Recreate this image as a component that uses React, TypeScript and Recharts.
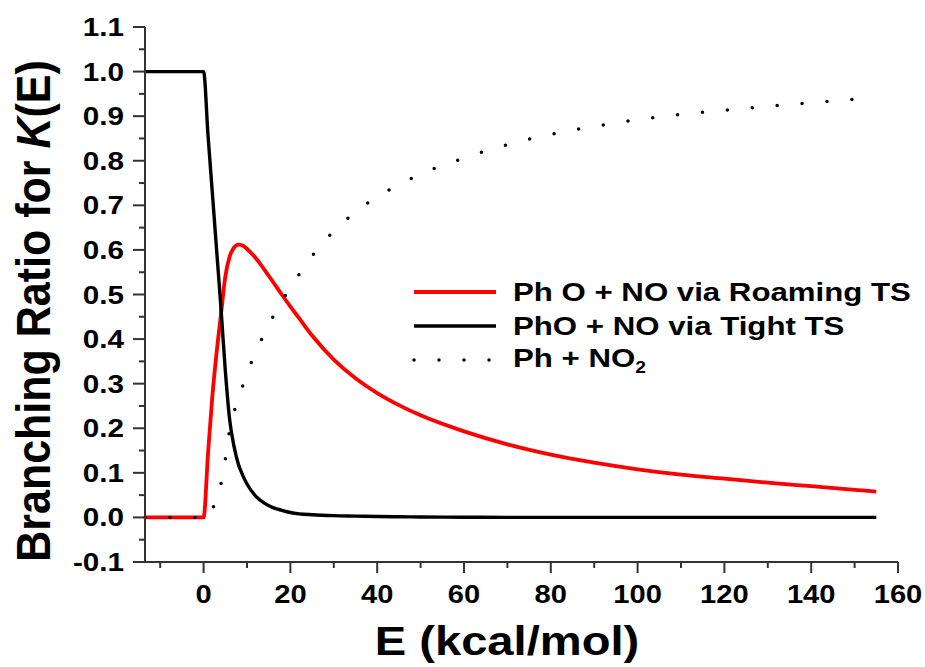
import { LineChart, Line, XAxis, YAxis } from "recharts"

// energies (kcal/mol) and branching ratios
const energies = [-13.5, 0, 1, 2, 3, 4, 5, 6, 7, 8, 9, 10, 12, 14, 16, 18, 20, 22, 25, 30, 35, 40, 45, 50, 60, 70, 80, 90, 100, 110, 120, 130, 140, 150, 155]
const roaming = [0, 0, 0.14, 0.27, 0.37, 0.455, 0.54, 0.585, 0.605, 0.612, 0.61, 0.602, 0.582, 0.556, 0.528, 0.5, 0.473, 0.447, 0.408, 0.354, 0.312, 0.279, 0.252, 0.229, 0.193, 0.164, 0.141, 0.123, 0.108, 0.096, 0.087, 0.078, 0.07, 0.062, 0.058]
const tight = [1, 1, 0.86, 0.73, 0.6, 0.47, 0.33, 0.22, 0.16, 0.12, 0.095, 0.075, 0.048, 0.032, 0.022, 0.016, 0.011, 0.008, 0.006, 0.004, 0.003, 0.002, 0.0015, 0.001, 0.0005, 0, 0, 0, 0, 0, 0, 0, 0, 0, 0]
const phNo2 = [0, 0, 0, 0.02, 0.035, 0.075, 0.13, 0.195, 0.235, 0.268, 0.295, 0.323, 0.37, 0.412, 0.45, 0.484, 0.516, 0.545, 0.586, 0.642, 0.685, 0.719, 0.746, 0.77, 0.806, 0.836, 0.859, 0.877, 0.892, 0.904, 0.913, 0.922, 0.93, 0.938, 0.942]

const xTicks = [-10, 0, 10, 20, 30, 40, 50, 60, 70, 80, 90, 100, 110, 120, 130, 140, 150, 160]
const yTicks = [-0.1, -0.05, 0, 0.05, 0.1, 0.15, 0.2, 0.25, 0.3, 0.35, 0.4, 0.45, 0.5, 0.55, 0.6, 0.65, 0.7, 0.75, 0.8, 0.85, 0.9, 0.95, 1.0, 1.05, 1.1]

const series = [
  { key: "roaming", name: "Ph O + NO via Roaming TS", color: "#ff0000", width: 3.8, dash: undefined },
  { key: "tight", name: "PhO + NO via Tight TS", color: "#000000", width: 3.4, dash: undefined },
  { key: "phNo2", name: "Ph + NO2", color: "#000000", width: 3.5, dash: "0 25" },
]

const data = energies.map((E, i) => ({ E, roaming: roaming[i], tight: tight[i], phNo2: phNo2[i] }))

const FONT = "'Liberation Sans', Arial, sans-serif"
const AXIS = "#333"

const XTick = ({ x, y, payload }: any) => {
  const major = payload.value % 20 === 0
  return (
    <g>
      <line x1={x} x2={x} y1={y} y2={y + (major ? 11 : 6)} stroke={AXIS} strokeWidth={2} />
      {major && (
        <text
          transform={`translate(${x},${y + 41}) scale(1.12,1)`}
          textAnchor="middle"
          fontFamily={FONT}
          fontWeight="bold"
          fontSize={26}
          fill="#000"
        >
          {payload.value}
        </text>
      )}
    </g>
  )
}

const YTick = ({ x, y, payload }: any) => {
  const major = Math.abs(Math.round(payload.value * 20)) % 2 === 0
  return (
    <g>
      <line x1={x - (major ? 12 : 6)} x2={x} y1={y} y2={y} stroke={AXIS} strokeWidth={2} />
      {major && (
        <text
          transform={`translate(${x - 21},${y + 9}) scale(1.14,1)`}
          textAnchor="end"
          fontFamily={FONT}
          fontWeight="bold"
          fontSize={26}
          fill="#000"
        >
          {payload.value.toFixed(1)}
        </text>
      )}
    </g>
  )
}

const LegendBox = () => (
  <div style={{ position: "absolute", left: 410, top: 275 }}>
    {series.map((s) => (
      <div key={s.key} style={{ display: "flex", alignItems: "center", height: 34 }}>
        <svg width={103} height={10}>
          <line
            x1={4}
            x2={86}
            y1={5}
            y2={5}
            stroke={s.color}
            strokeWidth={s.width}
            strokeDasharray={s.dash}
            strokeLinecap={s.dash ? "round" : "butt"}
          />
        </svg>
        <span
          style={{
            fontFamily: FONT,
            fontWeight: "bold",
            fontSize: 26,
            color: "#000",
            whiteSpace: "nowrap",
            transform: "scaleX(1.2)",
            transformOrigin: "left center",
            display: "inline-block",
          }}
        >
          {s.key === "phNo2" ? (
            <>
              Ph + NO<sub style={{ fontSize: 16 }}>2</sub>
            </>
          ) : (
            s.name
          )}
        </span>
      </div>
    ))}
  </div>
)

export default function App() {
  return (
    <div style={{ position: "absolute", left: 0, top: 0, width: 925, height: 667, background: "#fff" }}>
      <LineChart width={925} height={667} data={data} margin={{ top: 27, right: 27, bottom: 0, left: 0 }}>
        <XAxis
          dataKey="E"
          type="number"
          domain={[-13.5, 160]}
          ticks={xTicks}
          interval={0}
          height={105}
          tickSize={0}
          tickMargin={0}
          tickLine={false}
          axisLine={{ stroke: AXIS, strokeWidth: 2 }}
          tick={<XTick />}
          label={{
            content: () => (
              <text
                transform="translate(507,655) scale(1.15,1)"
                textAnchor="middle"
                fontFamily={FONT}
                fontWeight="bold"
                fontSize={41}
                fill="#000"
              >
                E (kcal/mol)
              </text>
            ),
          }}
        />
        <YAxis
          type="number"
          domain={[-0.1, 1.1]}
          ticks={yTicks}
          interval={0}
          width={145}
          tickSize={0}
          tickMargin={0}
          tickLine={false}
          axisLine={{ stroke: AXIS, strokeWidth: 2 }}
          tick={<YTick />}
          allowDataOverflow
          label={{
            content: () => (
              <text
                transform="translate(50,311) rotate(-90) scale(1,1.12)"
                textAnchor="middle"
                fontFamily={FONT}
                fontWeight="bold"
                fontSize={43}
                fill="#000"
              >
                Branching Ratio for <tspan fontStyle="italic">K</tspan>(E)
              </text>
            ),
          }}
        />
        {series.map((s) => (
          <Line
            key={s.key}
            dataKey={s.key}
            name={s.name}
            type="monotone"
            stroke={s.color}
            strokeWidth={s.width}
            strokeDasharray={s.dash}
            strokeLinecap={s.dash ? "round" : "butt"}
            dot={false}
            activeDot={false}
            isAnimationActive={false}
          />
        ))}
      </LineChart>
      <LegendBox />
    </div>
  )
}
